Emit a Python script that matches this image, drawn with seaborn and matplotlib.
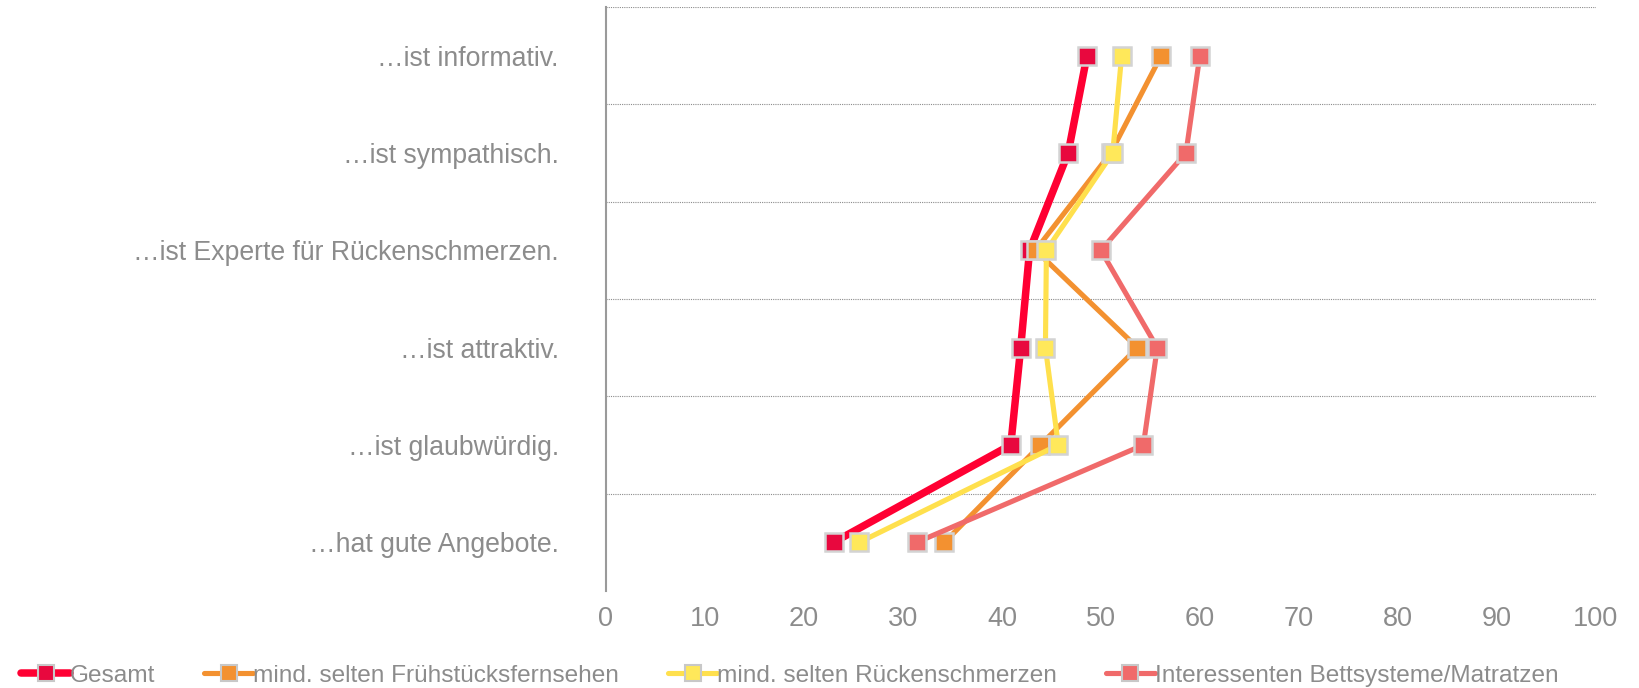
import matplotlib
matplotlib.use("Agg")
import matplotlib.pyplot as plt
import seaborn as sns
import pandas as pd
import numpy as np
from matplotlib.lines import Line2D

# Items (top to bottom)
items = [
    "…ist informativ.",
    "…ist sympathisch.",
    "…ist Experte für Rückenschmerzen.",
    "…ist attraktiv.",
    "…ist glaubwürdig.",
    "…hat gute Angebote.",
]

# Values per group
gesamt = [48.6, 46.7, 42.8, 41.9, 40.9, 23.0]
fruehstueck = [56.1, 51.0, 43.4, 53.7, 43.9, 34.2]
ruecken = [52.1, 51.2, 44.5, 44.4, 45.7, 25.6]
betten = [60.0, 58.6, 50.0, 55.7, 54.3, 31.4]

series_names = [
    "Gesamt",
    "mind. selten Frühstücksfernsehen",
    "mind. selten Rückenschmerzen",
    "Interessenten Bettsysteme/Matratzen",
]
line_colors = ["#FF0033", "#F39130", "#FFE04D", "#F06A6A"]
marker_colors = ["#E8083E", "#F39130", "#FFE85A", "#F06A6A"]
line_widths = [5.4, 3.7, 3.7, 3.7]

sns.set_style("white")
plt.rcParams["font.family"] = ["Liberation Sans", "DejaVu Sans"]

df = pd.DataFrame({"item": items, "pos": np.arange(len(items))})
for name, vals in zip(series_names, [gesamt, fruehstueck, ruecken, betten]):
    df[name] = vals

fig, ax = plt.subplots(figsize=(16.4, 6.88), dpi=100)
fig.subplots_adjust(left=0.3695, right=0.973, top=0.99, bottom=0.141)

# draw back to front so Gesamt ends up on top
order = [3, 1, 2, 0]
for i in order:
    sns.lineplot(
        data=df, x=series_names[i], y="pos", sort=False, estimator=None,
        color=line_colors[i], linewidth=line_widths[i], ax=ax,
        marker="s", markersize=13, markerfacecolor=marker_colors[i],
        markeredgecolor="#D3D3D3", markeredgewidth=1.8, zorder=3 + i,
    )

ax.set_xlim(0, 100)
ax.set_ylim(len(items) - 0.5, -0.5)
ax.set_xticks(range(0, 101, 10))
ax.set_yticks(df["pos"])
ax.set_yticklabels(items)
ax.set_yticks(np.arange(-0.5, len(items) - 1, 1), minor=True)
ax.grid(False)
ax.yaxis.grid(True, which="minor", linestyle=(0, (1, 1)), color="#8C8C8C", linewidth=0.8)
ax.set_xlabel("")
ax.set_ylabel("")

for s in ["top", "right", "bottom"]:
    ax.spines[s].set_visible(False)
ax.spines["left"].set_color("#9A9A9A")
ax.spines["left"].set_linewidth(1.5)

ax.tick_params(axis="x", length=0, pad=11, labelsize=19.5, labelcolor="#8C8C8C")
ax.tick_params(axis="y", which="both", length=0, pad=34, labelsize=19.2, labelcolor="#8C8C8C")

handles = [
    Line2D([0], [0], color=line_colors[i], linewidth=line_widths[i], marker="s",
           markersize=11, markerfacecolor=marker_colors[i], markeredgecolor="#C8C8C8",
           markeredgewidth=1.5)
    for i in range(4)
]
leg = fig.legend(
    handles, series_names, loc="center left", bbox_to_anchor=(0.007, 0.018),
    ncol=4, frameon=False, fontsize=17.6, handlelength=2.0, handletextpad=0.0,
    columnspacing=2.0, borderaxespad=0.0,
)
for t in leg.get_texts():
    t.set_color("#8C8C8C")

fig.savefig("out.png", dpi=100)
